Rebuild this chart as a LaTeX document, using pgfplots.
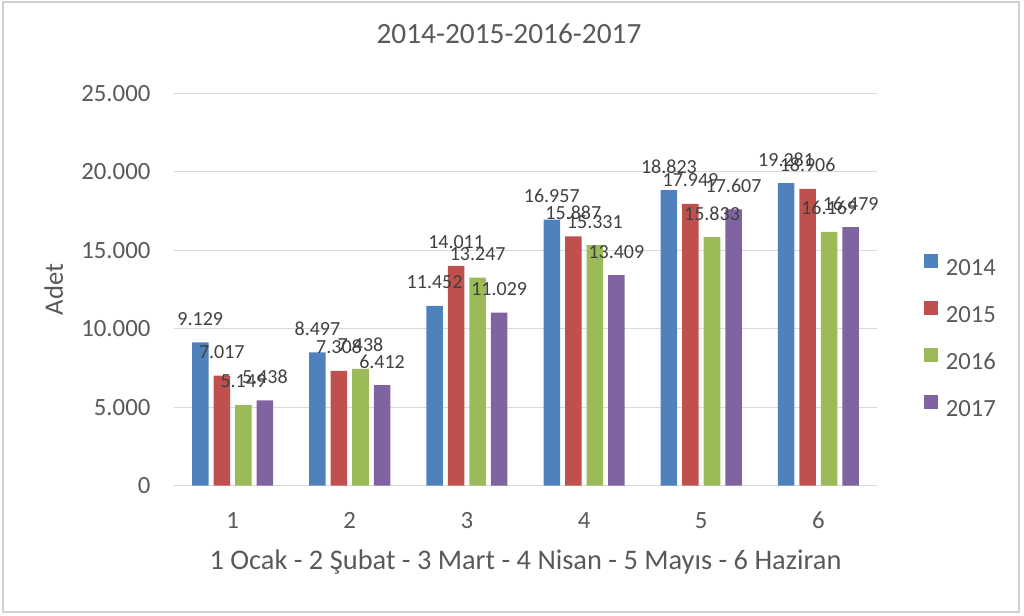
\documentclass[border=0pt]{standalone}
\usepackage{fontspec}
\setmainfont{Carlito}
\usepackage{pgfplots}
\pgfplotsset{compat=1.18}
\definecolor{c2014}{HTML}{4F81BD}
\definecolor{c2015}{HTML}{C0504D}
\definecolor{c2016}{HTML}{9BBB59}
\definecolor{c2017}{HTML}{8064A2}
\definecolor{textc}{HTML}{595959}
\definecolor{labc}{HTML}{404040}
\definecolor{gridc}{HTML}{D9D9D9}
\definecolor{borderc}{HTML}{D0D0D0}
\begin{document}
\begin{tikzpicture}
\path[use as bounding box] (0pt,0pt) rectangle (768pt,461.25pt);
\draw[borderc, line width=1.5pt] (1.9pt,2.25pt) rectangle (764.6pt,459.4pt);
\begin{axis}[
  at={(130.5pt,97pt)}, anchor=south west,
  scale only axis, width=527.25pt, height=294.3pt,
  ybar=3.75pt, bar width=12.4pt,
  xmin=0.5, xmax=6.5, ymin=0, ymax=25000,
  xtick={1,2,3,4,5,6}, ytick={0,5000,10000,15000,20000,25000},
  scaled y ticks=false,
  major tick length=0pt,
  axis lines*=left,
  x axis line style={draw=gridc, line width=0.9pt, -},
  y axis line style={draw=none},
  ymajorgrids, grid style={draw=gridc, line width=0.9pt},
  /pgf/number format/.cd, fixed, precision=0, 1000 sep={.}, assume math mode=true,
  /pgfplots/.cd,
  yticklabel style={font=\fontsize{18.6}{20}\selectfont, text=textc, anchor=east, inner sep=0pt, xshift=-17.5pt},
  xticklabel style={font=\fontsize{18.6}{20}\selectfont, text=textc, anchor=base, inner sep=0pt, yshift=-32pt},
  title={2014-2015-2016-2017},
  title style={at={(axis description cs:0.4765,1.1053)}, anchor=base, inner sep=0pt, font=\fontsize{22}{24}\selectfont, text=textc},
  xlabel={1 Ocak - 2 Şubat - 3 Mart - 4 Nisan - 5 Mayıs - 6 Haziran},
  xlabel style={at={(axis description cs:0.5,-0.2148)}, anchor=base, inner sep=0pt, font=\fontsize{21.3}{23}\selectfont, text=textc},
  ylabel={Adet},
  ylabel style={at={(axis description cs:-0.1579,0.5)}, anchor=base, inner sep=0pt, font=\fontsize{20}{22}\selectfont, text=textc},
  nodes near coords,
  every node near coord/.append style={font=\fontsize{15}{16}\selectfont, text=labc, anchor=base, inner sep=0pt, yshift=12.75pt},
  legend style={at={(axis description cs:1.061,0.598)}, anchor=north west, draw=none, fill=none,
    font=\fontsize{18.5}{20}\selectfont, text=textc, row sep=17.35pt,
    nodes={inner sep=0pt},
    /tikz/every odd column/.append style={column sep=5.8pt}},
  legend cell align=left,
  legend image code/.code={\fill[#1] (0pt,0.6pt) rectangle (10.5pt,11.1pt);},
]
\addplot[fill=c2014, draw=none] coordinates {(1,9129) (2,8497) (3,11452) (4,16957) (5,18823) (6,19281)};
\addplot[fill=c2015, draw=none] coordinates {(1,7017) (2,7308) (3,14011) (4,15887) (5,17949) (6,18906)};
\addplot[fill=c2016, draw=none] coordinates {(1,5149) (2,7438) (3,13247) (4,15331) (5,15833) (6,16169)};
\addplot[fill=c2017, draw=none] coordinates {(1,5438) (2,6412) (3,11029) (4,13409) (5,17607) (6,16479)};
\legend{2014,2015,2016,2017}
\end{axis}
\end{tikzpicture}
\end{document}
